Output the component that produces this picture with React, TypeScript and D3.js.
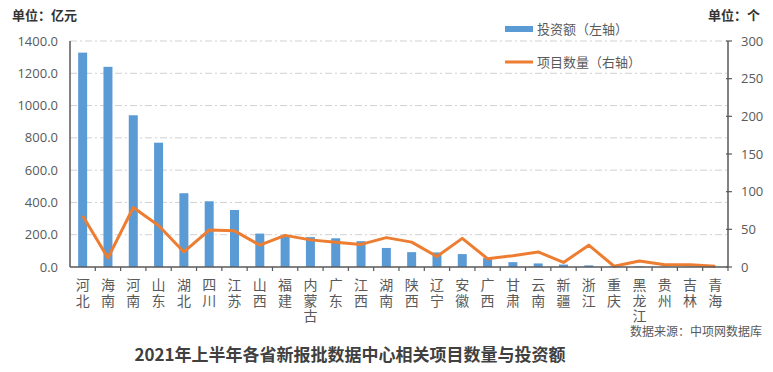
import * as d3 from "d3";
import React from "react";

const provinces = [
  "河北", "海南", "河南", "山东", "湖北", "四川", "江苏", "山西", "福建",
  "内蒙古", "广东", "江西", "湖南", "陕西", "辽宁", "安徽", "广西", "甘肃",
  "云南", "新疆", "浙江", "重庆", "黑龙江", "贵州", "吉林", "青海",
];
// 投资额（亿元）
const investment = [
  1328, 1240, 940, 770, 457, 407, 353, 207, 195, 185, 178, 160, 118, 92,
  90, 80, 55, 30, 22, 15, 10, 3, 4, 2, 2, 1,
];
// 项目数量（个）
const projects = [
  68, 12, 79, 55, 20, 49, 48, 29, 42, 36, 33, 30, 39, 33, 14, 38, 11, 15,
  20, 6, 29, 1, 8, 3, 3, 1,
];
const leftTicks = [0, 200, 400, 600, 800, 1000, 1200, 1400];
const rightTicks = [0, 50, 100, 150, 200, 250, 300];

const W = 773;
const H = 372;
const left = 70;
const right = 728;
const top = 41;
const bottom = 267;

const axisColor = "#595959";
const textColor = "#595959";
const cjk = "'Noto Sans CJK SC', sans-serif";
const num = "'Open Sans', 'Noto Sans', sans-serif";

export default function App() {
  const x = d3.scaleBand().domain(provinces).range([left, right]).padding(0);
  const y1 = d3.scaleLinear().domain([0, 1400]).range([bottom, top]);
  const y2 = d3.scaleLinear().domain([0, 300]).range([bottom, top]);
  const barW = 9;
  const cx = (p: string) => x(p)! + x.bandwidth() / 2;

  const line = d3
    .line<number>()
    .x((_, i) => cx(provinces[i]))
    .y((d) => y2(d));

  return (
    <svg
      width={W}
      height={H}
      viewBox={`0 0 ${W} ${H}`}
      style={{ position: "absolute", left: 0, top: 0, background: "#fff" }}
    >
      {/* grid */}
      {leftTicks.slice(1).map((t) => (
        <line
          key={t}
          x1={left}
          x2={right}
          y1={y1(t)}
          y2={y1(t)}
          stroke="#d0d0d0"
          strokeWidth={1}
          strokeDasharray="7 3 2 3"
        />
      ))}

      {/* bars */}
      {investment.map((v, i) => (
        <rect
          key={provinces[i]}
          x={cx(provinces[i]) - barW / 2}
          y={y1(v)}
          width={barW}
          height={bottom - y1(v)}
          fill="#5B9BD5"
        />
      ))}

      {/* line */}
      <path
        d={line(projects)!}
        fill="none"
        stroke="#ED7D31"
        strokeWidth={3}
        strokeLinejoin="round"
      />

      {/* left axis */}
      <line x1={left} x2={left} y1={top} y2={bottom} stroke={axisColor} strokeWidth={1.5} />
      {leftTicks.map((t) => (
        <text
          key={t}
          x={left - 12}
          y={y1(t)}
          dy="0.35em"
          textAnchor="end"
          fontFamily={num}
          fontSize={13}
          fill={textColor}
        >
          {t.toFixed(1)}
        </text>
      ))}

      {/* right axis */}
      <line x1={right} x2={right} y1={top} y2={bottom} stroke={axisColor} strokeWidth={1.5} />
      {rightTicks.map((t) => (
        <g key={t}>
          <line x1={right - 2} x2={right + 4} y1={y2(t)} y2={y2(t)} stroke={axisColor} strokeWidth={1.2} />
          <text
            x={right + 13}
            y={y2(t)}
            dy="0.35em"
            fontFamily={num}
            fontSize={13}
            fill={textColor}
          >
            {t}
          </text>
        </g>
      ))}

      {/* bottom axis */}
      <line x1={left} x2={right} y1={bottom} y2={bottom} stroke={axisColor} strokeWidth={1.5} />
      {provinces.map((p) => (
        <line
          key={p}
          x1={x(p)! + x.bandwidth()}
          x2={x(p)! + x.bandwidth()}
          y1={bottom}
          y2={bottom + 4}
          stroke={axisColor}
          strokeWidth={1.2}
        />
      ))}
      {provinces.map((p) => (
        <text
          key={p}
          x={cx(p)}
          y={278}
          fontFamily={cjk}
          fontSize={14}
          fill={textColor}
          style={{ writingMode: "vertical-rl", letterSpacing: "1.5px" }}
        >
          {p}
        </text>
      ))}

      {/* units */}
      <text x={12} y={15} dy="0.35em" fontFamily={cjk} fontSize={13} fontWeight="bold" fill="#333">
        单位：亿元
      </text>
      <text x={708} y={15} dy="0.35em" fontFamily={cjk} fontSize={13} fontWeight="bold" fill="#333">
        单位：个
      </text>

      {/* legend */}
      <rect x={505} y={26} width={28} height={6} fill="#5B9BD5" />
      <text x={537} y={29} dy="0.35em" fontFamily={cjk} fontSize={13} fill={textColor}>
        投资额（左轴）
      </text>
      <line x1={505} x2={533} y1={62} y2={62} stroke="#ED7D31" strokeWidth={3} />
      <text x={537} y={62} dy="0.35em" fontFamily={cjk} fontSize={13} fill={textColor}>
        项目数量（右轴）
      </text>

      {/* source */}
      <text x={762} y={332} dy="0.35em" textAnchor="end" fontFamily={cjk} fontSize={12} fill={textColor}>
        数据来源：中项网数据库
      </text>

      {/* title */}
      <text x={350} y={355} dy="0.35em" textAnchor="middle" fontFamily={cjk} fontSize={17} fontWeight="bold" fill="#404040">
        2021年上半年各省新报批数据中心相关项目数量与投资额
      </text>
    </svg>
  );
}
